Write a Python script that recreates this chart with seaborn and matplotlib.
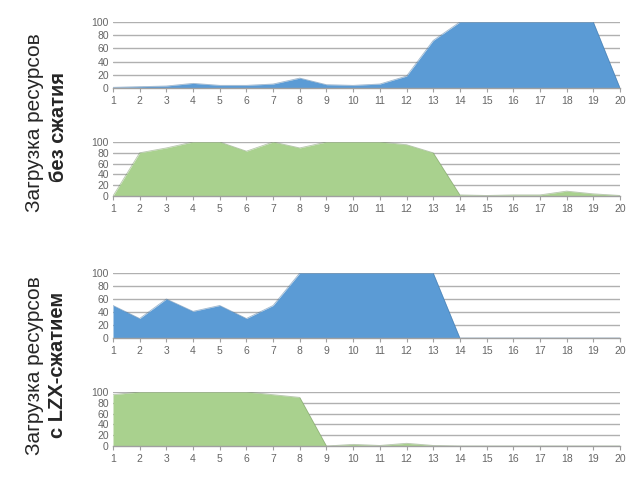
import numpy as np
import pandas as pd
import matplotlib
matplotlib.use("Agg")
import matplotlib.pyplot as plt
import seaborn as sns

steps = list(range(1, 21))
cpu_plain = [1, 2, 3, 7, 4, 4, 6, 15, 5, 4, 6, 18, 72, 100, 100, 100, 100, 100, 100, 0]
net_plain = [0, 80, 89, 100, 100, 83, 100, 89, 100, 100, 100, 95, 80, 2, 1, 2, 2, 9, 4, 1]
cpu_lzx = [50, 30, 60, 41, 50, 30, 50, 100, 100, 100, 100, 100, 100, 0, 0, 0, 0, 0, 0, 0]
net_lzx = [95, 100, 100, 100, 100, 100, 95, 90, 0, 3, 1, 5, 1, 0, 0, 0, 0, 0, 0, 0]
yticks = [0, 20, 40, 60, 80, 100]
label_main = "Загрузка ресурсов"
label_top = "без сжатия"
label_bottom = "с LZX-сжатием"

sns.set_style("white")
plt.rcParams['font.family'] = ['Liberation Sans', 'DejaVu Sans']

BLUE = "#5B9BD5"
GREEN = "#A9D18E"

fig = plt.figure(figsize=(6.4, 4.8), dpi=100)

panels = [
    (cpu_plain, BLUE, "#3d6f9e", [113/640, 1-88/480, 507/640, 66/480]),
    (net_plain, GREEN, "#6f8f5a", [113/640, 1-196/480, 507/640, 54/480]),
    (cpu_lzx, BLUE, "#3d6f9e", [113/640, 1-338/480, 507/640, 65/480]),
    (net_lzx, GREEN, "#6f8f5a", [113/640, 1-446/480, 507/640, 54/480]),
]

for vals, col, edge, rect in panels:
    ax = fig.add_axes(rect)
    df = pd.DataFrame({"x": steps, "y": vals})
    for yv in yticks[1:]:
        ax.axhline(yv, color="#b0b0b0", lw=1.0, zorder=0)
    ax.fill_between(df["x"], 0, df["y"], color=col, lw=0, zorder=2)
    sns.lineplot(data=df, x="x", y="y", ax=ax, color=edge, lw=0.6, alpha=0.5, zorder=3)
    ax.set_xlim(1, 20)
    ax.set_ylim(0, 100)
    ax.set_xticks(steps)
    ax.set_yticks(yticks)
    ax.set_xlabel("")
    ax.set_ylabel("")
    for s in ["top", "right", "left"]:
        ax.spines[s].set_visible(False)
    ax.spines["bottom"].set_color("#a0a0a0")
    ax.spines["bottom"].set_linewidth(1.0)
    ax.spines["bottom"].set_zorder(4)
    ax.tick_params(axis="x", length=3, color="#a0a0a0", labelsize=7.5, labelcolor="#666666", pad=3, bottom=True)
    ax.tick_params(axis="y", length=0, labelsize=7.5, labelcolor="#666666", pad=3)
    ax.set_facecolor("none")

fig.text(35/640, 1-123/480, label_main, rotation=90, ha="center", va="center", fontsize=15)
fig.text(58/640, 1-127/480, label_top, rotation=90, ha="center", va="center", fontsize=14.5, fontweight="bold")
fig.text(35/640, 1-366/480, label_main, rotation=90, ha="center", va="center", fontsize=15)
fig.text(58/640, 1-365/480, label_bottom, rotation=90, ha="center", va="center", fontsize=14.5, fontweight="bold")

fig.savefig("out.png", dpi=100)
